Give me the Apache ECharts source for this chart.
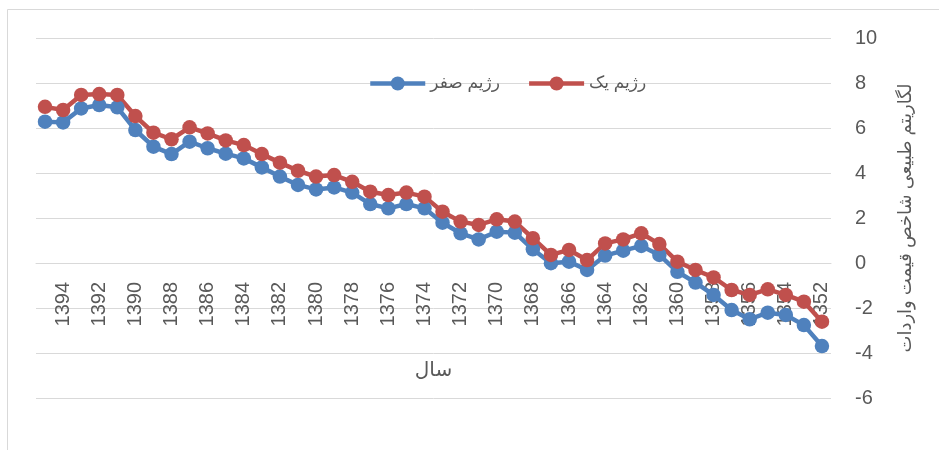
<!DOCTYPE html>
<html>
<head>
<meta charset="utf-8">
<script src="https://cdn.jsdelivr.net/npm/echarts@6/dist/echarts.min.js"></script>
<style>
html,body{margin:0;padding:0;background:#fff;}
#chart{width:939px;height:450px;}
</style>
</head>
<body>
<div id="chart"></div>
<script>
const years = [1395,1394,1393,1392,1391,1390,1389,1388,1387,1386,1385,1384,1383,1382,1381,1380,1379,1378,1377,1376,1375,1374,1373,1372,1371,1370,1369,1368,1367,1366,1365,1364,1363,1362,1361,1360,1359,1358,1357,1356,1355,1354,1353,1352];
const regimeZero = [6.28,6.25,6.87,7.02,6.92,5.91,5.17,4.84,5.39,5.10,4.86,4.65,4.25,3.84,3.47,3.27,3.36,3.13,2.62,2.43,2.62,2.43,1.79,1.32,1.05,1.39,1.35,0.61,-0.01,0.06,-0.31,0.33,0.55,0.76,0.36,-0.39,-0.87,-1.42,-2.09,-2.50,-2.21,-2.31,-2.76,-3.69];
const regimeOne = [6.94,6.80,7.47,7.51,7.47,6.53,5.79,5.50,6.03,5.76,5.45,5.24,4.84,4.46,4.10,3.84,3.91,3.61,3.17,3.02,3.13,2.95,2.28,1.84,1.69,1.94,1.84,1.10,0.36,0.58,0.13,0.87,1.05,1.32,0.84,0.06,-0.31,-0.64,-1.20,-1.42,-1.17,-1.42,-1.72,-2.61];
const seriesNames = ['رژیم صفر','رژیم یک'];
const xTitle = 'سال';
const yTitle = 'لگاریتم طبیعی شاخص قیمت واردات';

const FONT = '"Liberation Sans", "DejaVu Sans", sans-serif';
const chart = echarts.init(document.getElementById('chart'), null, {renderer:'canvas'});
chart.setOption({
  animation:false,
  backgroundColor:'#ffffff',
  graphic:[{
    type:'rect', shape:{x:7.5,y:9.5,width:1000,height:500},
    style:{fill:'none',stroke:'#D9D9D9',lineWidth:1}, silent:true, z:-10
  }],
  legend:{
    left:363, top:70,
    itemWidth:55, itemHeight:17.5, itemGap:27,
    lineStyle:{width:4.5},
    textStyle:{fontFamily:FONT,fontSize:17,color:'#595959'},
    data:seriesNames
  },
  grid:{left:36,right:108,top:38,bottom:52,containLabel:false,outerBoundsMode:'none'},
  xAxis:{
    type:'category',
    data:years,
    boundaryGap:true,
    offset:-135,
    axisLine:{show:true,onZero:false,lineStyle:{color:'#D9D9D9',width:1}},
    axisTick:{show:false},
    axisLabel:{
      interval:function(i){return i%2===1;},
      rotate:90, margin:19,
      fontFamily:FONT, fontSize:20, color:'#595959'
    },
    name:xTitle, nameLocation:'middle', nameGap:97,
    nameTextStyle:{fontFamily:FONT,fontSize:20,color:'#595959'}
  },
  yAxis:{
    type:'value', position:'right',
    min:-6, max:10, interval:2,
    axisLine:{show:false}, axisTick:{show:false},
    splitLine:{lineStyle:{color:'#D9D9D9',width:1}},
    axisLabel:{margin:24,fontFamily:FONT,fontSize:20,color:'#595959'},
    name:yTitle, nameLocation:'middle', nameRotate:90, nameGap:66,
    nameTextStyle:{fontFamily:FONT,fontSize:18,color:'#595959'}
  },
  series:[
    {name:seriesNames[0],type:'line',data:regimeZero,symbol:'circle',symbolSize:14.5,showAllSymbol:true,
     lineStyle:{color:'#4F81BD',width:4.5},itemStyle:{color:'#4F81BD'}},
    {name:seriesNames[1],type:'line',data:regimeOne,symbol:'circle',symbolSize:14.5,showAllSymbol:true,
     lineStyle:{color:'#C0504D',width:4.5},itemStyle:{color:'#C0504D'}}
  ]
});
</script>
</body>
</html>
